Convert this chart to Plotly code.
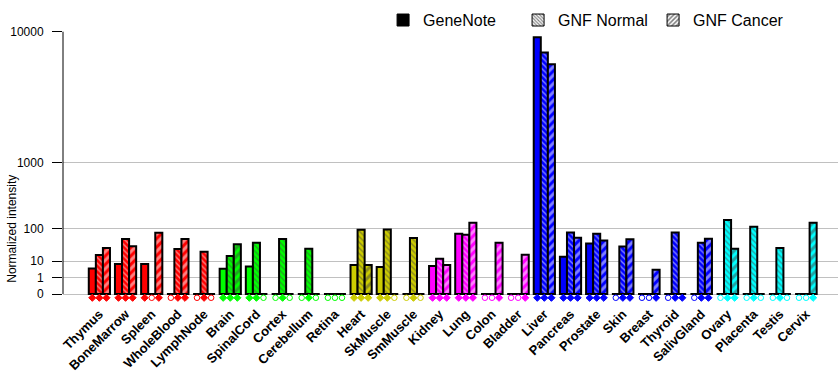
import plotly.graph_objects as go

categories = ["Thymus", "BoneMarrow", "Spleen", "WholeBlood", "LymphNode",
              "Brain", "SpinalCord", "Cortex", "Cerebellum", "Retina",
              "Heart", "SkMuscle", "SmMuscle",
              "Kidney", "Lung", "Colon", "Bladder",
              "Liver", "Pancreas", "Prostate", "Skin", "Breast", "Thyroid", "SalivGland",
              "Ovary", "Placenta", "Testis", "Cervix"]

group_colors = (["#FF0000"] * 5 + ["#00FF00"] * 5 + ["#CCCC00"] * 3 +
                ["#FF00FF"] * 4 + ["#0000FF"] * 7 + ["#00FFFF"] * 4)

genenote = [4.4, 7.4, 7.4, None, None, 4.2, 5.5, None, None, None,
            6.6, 5.2, None, 5.9, 75, None, None,
            9300, 15.3, 42, None, None, None, None,
            None, None, None, None]
gnf_normal = [17.7, 56, None, 28.5, 23, 16.3, 44, 56, 29, None,
              93, 95, 59, 12.7, 71, None, None,
              7600, 81, 75, 34, None, 81, 44,
              149, 109, 31, None]
gnf_cancer = [31, 35, 80, 56, None, 40, None, None, None, None,
              6.6, None, None, 6.6, 131, 44, 18.2,
              6450, 60, 51, 55, 3.7, 0, 57,
              29, None, None, 131]

tick_values = [0, 1, 10, 100, 1000, 10000]
P = 0.30103  # each decade doubles on this axis


def tr(v):
    return None if v is None else v ** P


FONT = "Liberation Sans, Arial, sans-serif"
idx = list(range(len(categories)))
fig = go.Figure()

series = [
    ("GeneNote", genenote, None),
    ("GNF Normal", gnf_normal, "\\"),
    ("GNF Cancer", gnf_cancer, "/"),
]

BW = 0.27  # bar width in category units
for k, (name, vals, shape) in enumerate(series):
    marker = dict(color=group_colors, line=dict(color="black", width=2))
    if shape == "\\":
        marker["pattern"] = dict(shape=shape, size=4, solidity=0.35,
                                 bgcolor=group_colors, fgcolor="white", fillmode="overlay")
    elif shape == "/":
        marker["pattern"] = dict(shape=shape, size=6, solidity=0.5,
                                 bgcolor="white", fgcolor=group_colors, fillmode="overlay")
    fig.add_trace(go.Bar(x=idx, y=[tr(v) for v in vals], name=name, marker=marker,
                         width=BW, offset=(k - 1.5) * BW,
                         showlegend=False, hoverinfo="skip"))

# legend-only swatches
leg_pats = [None,
            dict(shape="\\", size=3, solidity=0.45, bgcolor="white", fgcolor="black", fillmode="overlay"),
            dict(shape="/", size=4, solidity=0.5, bgcolor="white", fgcolor="black", fillmode="overlay")]
for (name, _, _), lp in zip(series, leg_pats):
    m = dict(color="black", line=dict(color="black", width=1))
    if lp:
        m["pattern"] = lp
        m["color"] = "white"
    fig.add_trace(go.Bar(x=[None], y=[None], name=name, marker=m, showlegend=True))

# black baseline under each group
bx, by = [], []
for i in idx:
    bx += [i - 0.42, i + 0.42, None]
    by += [0, 0, None]
fig.add_trace(go.Scatter(x=bx, y=by, mode="lines", line=dict(color="black", width=2),
                         showlegend=False, hoverinfo="skip", cliponaxis=False))

# presence markers
for k, (name, vals, _) in enumerate(series):
    off = (k - 1) * BW
    sym = ["diamond" if v is not None else "circle-open" for v in vals]
    fig.add_trace(go.Scatter(
        x=[i + off for i in idx], y=[-0.23] * len(idx), mode="markers",
        marker=dict(symbol=sym, color=group_colors, size=5.5,
                    line=dict(color=group_colors, width=1)),
        showlegend=False, hoverinfo="skip", cliponaxis=False))

# y axis line from 0 to top
fig.add_shape(type="line", xref="paper", yref="y", x0=0, x1=0, y0=0, y1=tr(10000),
              line=dict(color="black", width=1))

fig.update_layout(
    width=840, height=385,
    margin=dict(l=63, r=2, t=31, b=82),
    paper_bgcolor="white", plot_bgcolor="white",
    barmode="overlay",
    font=dict(family=FONT, color="black"),
    legend=dict(orientation="h", x=0.413, xanchor="left", y=1.04, yanchor="middle",
                font=dict(size=16, family=FONT), entrywidth=90, itemwidth=30,
                bgcolor="rgba(0,0,0,0)"),
    annotations=[dict(text="Normalized intensity", textangle=-90, xref="paper", yref="y",
                      x=-0.066, y=3.97, xanchor="center", yanchor="middle",
                      showarrow=False, font=dict(size=12, family=FONT))],
)
fig.update_xaxes(range=[-1.39, 28.22], tickvals=idx, ticktext=categories, tickangle=-45,
                 tickfont=dict(size=13, family=FONT, weight="bold"), showgrid=False,
                 zeroline=False, showline=False, ticks="", automargin=False)
fig.update_yaxes(range=[-0.549, 16.043], tickvals=[tr(v) for v in tick_values],
                 ticktext=[str(v) for v in tick_values], showgrid=True, gridcolor="#C0C0C0",
                 gridwidth=1, zeroline=False, showline=False, ticks="outside", ticklen=10,
                 tickcolor="black", tickwidth=1, tickfont=dict(size=12, family=FONT),
                 ticklabelstandoff=6, automargin=False)

fig.write_html("out.html", config={"displayModeBar": False},
               post_script="document.body.style.margin='0px';document.body.style.overflow='hidden';")
